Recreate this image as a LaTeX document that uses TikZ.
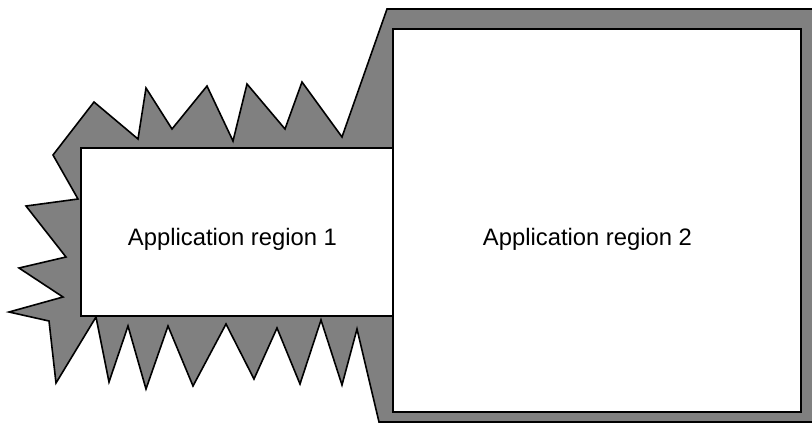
\documentclass[tikz,border=0pt]{standalone}
\usepackage{fontspec}
\setmainfont{Liberation Sans}
\begin{document}
\begin{tikzpicture}[x=1pt,y=-1pt,
  outline/.style={draw=black,line width=1.6pt,line join=miter},
  spiky/.style={outline,fill=gray},
  regionbox/.style={outline,fill=white,rectangle,inner sep=0pt,outer sep=0pt,anchor=north west},
  regionlabel/.style={font=\fontsize{23.8}{28}\selectfont,anchor=base,inner sep=0pt}]
\useasboundingbox (0,0) rectangle (812,424);
\clip (0,0) rectangle (812,424);
\draw[spiky] (387,9) -- (342,137) -- (302,82) -- (285,129) -- (247,84) -- (233,141)
  -- (207,86) -- (172,129) -- (146,88) -- (138,139) -- (94,102) -- (53,155)
  -- (78,199) -- (26,206) -- (66,257) -- (19,268) -- (63,297) -- (9,312)
  -- (49,321) -- (56,383) -- (96,317) -- (109,382) -- (128,326) -- (146,389)
  -- (168,326) -- (193,386) -- (226,324) -- (254,379) -- (277,328) -- (300,384)
  -- (321,320) -- (342,385) -- (357,329) -- (379,422) -- (830,422) -- (830,9) -- cycle;
\node[regionbox,minimum width=408pt,minimum height=383pt] (r2) at (393,29) {};
\node[regionbox,minimum width=312pt,minimum height=168pt] (r1) at (81,148) {};
\node[regionlabel] (t1) at (232.5,245) {Application region 1};
\node[regionlabel] (t2) at (587.5,245) {Application region 2};
\end{tikzpicture}
\end{document}
